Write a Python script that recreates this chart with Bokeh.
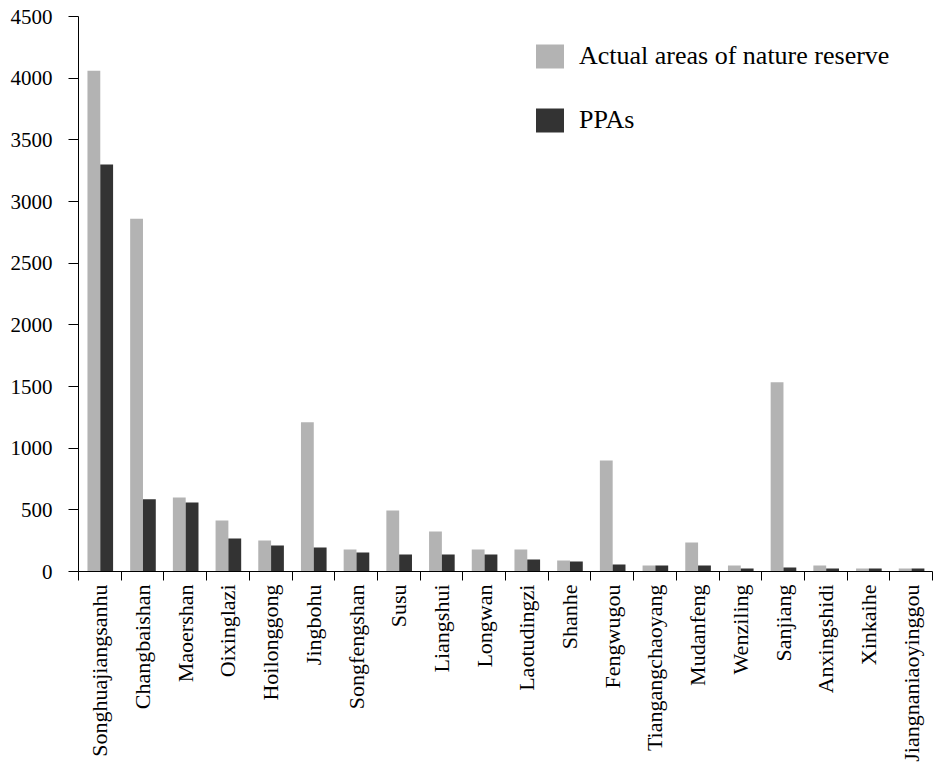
import math
from bokeh.plotting import figure
from bokeh.models import (ColumnDataSource, Range1d, FixedTicker, SingleIntervalTicker,
                          Legend, LegendItem)
from bokeh.transform import dodge
from bokeh.embed import file_html
from bokeh.resources import INLINE

reserves = ["Songhuajiangsanhu", "Changbaishan", "Maoershan", "Oixinglazi", "Hoilonggong",
            "Jingbohu", "Songfengshan", "Susu", "Liangshui", "Longwan", "Laotudingzi",
            "Shanhe", "Fengwugou", "Tiangangchaoyang", "Mudanfeng", "Wenziling",
            "Sanjiang", "Anxingshidi", "Xinkaihe", "Jiangnaniaoyinggou"]
actual_areas = [4060, 2860, 600, 413, 251, 1210, 178, 494, 324, 178, 178, 89, 900, 49,
                235, 49, 1535, 49, 24, 24]
ppas = [3300, 585, 560, 267, 211, 194, 154, 138, 138, 138, 97, 81, 57, 49, 49, 24, 32,
        24, 24, 24]
y_ticks_interval = 500

idx = list(range(len(reserves)))
src = ColumnDataSource(data=dict(i=idx, actual=actual_areas, ppas=ppas))

FONT = "Liberation Serif"

p = figure(width=934, height=764, x_range=Range1d(-0.5, len(reserves) - 0.5),
           y_range=Range1d(0, 4500), output_backend="svg", toolbar_location=None,
           min_border_left=78, min_border_right=2, min_border_top=16,
           min_border_bottom=193)
p.outline_line_color = None
p.grid.visible = False
p.background_fill_color = "white"

r1 = p.vbar(x=dodge("i", -0.14, range=p.x_range), top="actual", width=0.3, bottom=0,
            source=src, fill_color="#b3b3b3", line_color=None)
r2 = p.vbar(x=dodge("i", 0.16, range=p.x_range), top="ppas", width=0.3, bottom=0,
            source=src, fill_color="#333333", line_color=None)

# x axis
xa = p.xaxis[0]
xa.ticker = FixedTicker(ticks=idx, minor_ticks=[i - 0.5 for i in range(len(reserves) + 1)])
xa.major_label_overrides = {i: n for i, n in zip(idx, reserves)}
xa.major_label_orientation = math.pi / 2
xa.major_tick_line_color = None
xa.major_tick_out = 9
xa.major_tick_in = 0
xa.minor_tick_out = 9
xa.minor_tick_in = 0
xa.minor_tick_line_color = "black"
xa.minor_tick_line_width = 1
xa.major_label_standoff = 4
xa.axis_line_color = "black"
xa.major_label_text_font = FONT
xa.major_label_text_font_size = "22px"
xa.major_label_text_color = "black"

# y axis
ya = p.yaxis[0]
ya.ticker = SingleIntervalTicker(interval=y_ticks_interval, num_minor_ticks=0)
ya.major_tick_out = 10
ya.major_tick_in = 0
ya.minor_tick_line_color = None
ya.major_tick_line_color = "black"
ya.axis_line_color = "black"
ya.major_label_standoff = 16
ya.major_label_text_font = FONT
ya.major_label_text_font_size = "21px"
ya.major_label_text_color = "black"

legend = Legend(items=[LegendItem(label="Actual areas of nature reserve", renderers=[r1]),
                       LegendItem(label="PPAs", renderers=[r2])],
                location=(454, 436), padding=0, margin=0, spacing=34,
                glyph_width=35, glyph_height=30, label_standoff=12,
                label_text_font=FONT, label_text_font_size="26px",
                label_text_color="black", border_line_color=None,
                background_fill_alpha=0)
p.add_layout(legend)

open("out.html", "w").write(file_html(p, INLINE))
